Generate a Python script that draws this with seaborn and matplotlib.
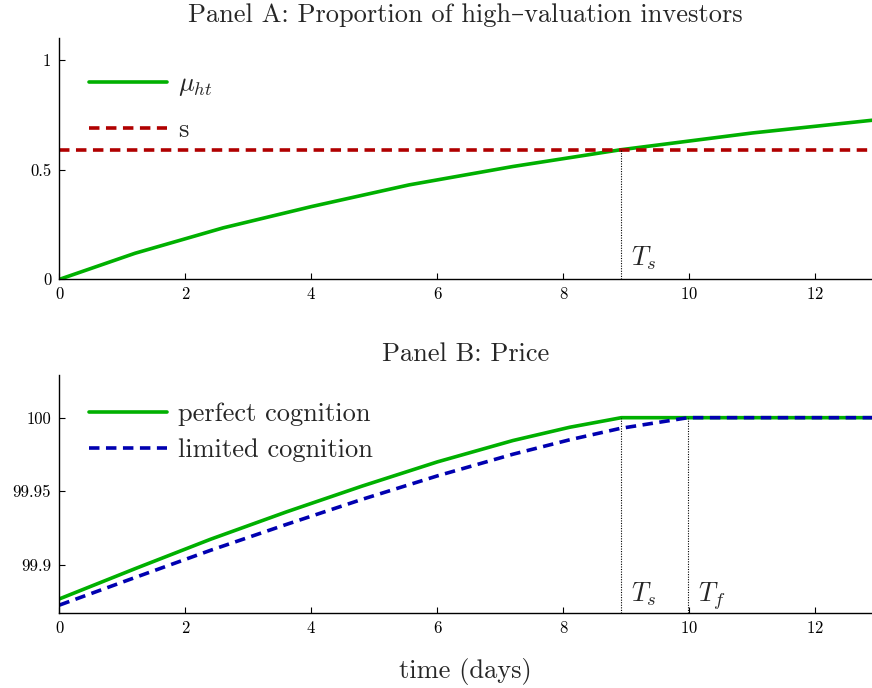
import numpy as np
import pandas as pd
import matplotlib
matplotlib.use("Agg")
import matplotlib.pyplot as plt
import seaborn as sns

# ---- data -------------------------------------------------------------
# Panel A: share of high-valuation investors over time
t_mu = [0.0, 1.2, 2.6, 4.0, 5.55, 7.2, 8.9, 11.0, 12.9]
mu_ht = [0.0, 0.119, 0.235, 0.332, 0.431, 0.515, 0.591, 0.668, 0.726]
s_level = 0.59

# Panel B: price paths
t_perfect = [0.0, 1.2, 2.4, 3.6, 4.8, 6.0, 7.2, 8.1, 8.92, 12.9]
p_perfect = [99.8770, 99.8975, 99.9175, 99.9360, 99.9535, 99.9700,
             99.9845, 99.9935, 100.0, 100.0]
t_limited = [0.0, 1.2, 2.4, 3.6, 4.8, 6.0, 7.2, 8.1, 8.9, 9.98, 12.9]
p_limited = [99.8728, 99.8915, 99.9100, 99.9275, 99.9445, 99.9605,
             99.9752, 99.9850, 99.9927, 100.0, 100.0]

T_s = 8.92
T_f = 9.98

x_ticks = [0, 2, 4, 6, 8, 10, 12]
yA_ticks = [0, 0.5, 1]
yA_labels = ["0", "0.5", "1"]
yB_ticks = [99.9, 99.95, 100]
yB_labels = ["99.9", "99.95", "100"]

# ---- style ------------------------------------------------------------
sns.set_theme(style="ticks")
plt.rcParams["font.family"] = ["cmr10", "DejaVu Serif"]
plt.rcParams["mathtext.fontset"] = "cm"
plt.rcParams["axes.formatter.use_mathtext"] = True
plt.rcParams["axes.edgecolor"] = "black"
plt.rcParams["axes.linewidth"] = 1.0

GREEN = "#00b000"
RED = "#b00000"
BLUE = "#0000b0"
LW = 2.6
DASH = (0, (2.9, 1.8))
BIG = 19
SMALL = 12

fig = plt.figure(figsize=(8.72, 6.88), dpi=100)
axA = fig.add_axes([0.0682, 0.594, 0.9318, 0.3503])
axB = fig.add_axes([0.0682, 0.1094, 0.9318, 0.3456])

# ---- Panel A ----------------------------------------------------------
dfA = pd.DataFrame({"t": t_mu, "mu": mu_ht})
sns.lineplot(data=dfA, x="t", y="mu", ax=axA, color=GREEN, lw=LW,
             label=r"$\mu_{ht}$")
axA.axhline(s_level, color=RED, lw=LW, linestyle=DASH, label="s")
axA.plot([T_s, T_s], [0, s_level], color="black", lw=0.8,
         linestyle=(0, (1, 1.3)))
axA.annotate(r"$T_s$", xy=(T_s, 0), xycoords=("data", "axes fraction"),
             xytext=(7, 10), textcoords="offset points", fontsize=BIG,
             va="baseline", ha="left")
axA.set_xlim(0, 12.9)
axA.set_ylim(0, 1.1)
axA.set_yticks(yA_ticks, yA_labels)
axA.set_title("Panel A: Proportion of high\u2013valuation investors",
              fontsize=BIG, pad=12)
axA.legend(loc="upper left", bbox_to_anchor=(0.036, 0.86), frameon=False,
           fontsize=BIG, handlelength=2.95, handletextpad=0.42,
           borderpad=0, borderaxespad=0, labelspacing=0.78)

# ---- Panel B ----------------------------------------------------------
dfP = pd.DataFrame({"t": t_perfect, "p": p_perfect})
dfL = pd.DataFrame({"t": t_limited, "p": p_limited})
sns.lineplot(data=dfP, x="t", y="p", ax=axB, color=GREEN, lw=LW,
             label="perfect cognition")
sns.lineplot(data=dfL, x="t", y="p", ax=axB, color=BLUE, lw=LW,
             linestyle=DASH, label="limited cognition")
for tv, lab in [(T_s, r"$T_s$"), (T_f, r"$T_f$")]:
    axB.plot([tv, tv], [99.8676, 100.0], color="black", lw=0.8,
             linestyle=(0, (1, 1.3)))
    axB.annotate(lab, xy=(tv, 0), xycoords=("data", "axes fraction"),
                 xytext=(7, 8), textcoords="offset points", fontsize=BIG,
                 va="baseline", ha="left")
axB.set_xlim(0, 12.9)
axB.set_ylim(99.8676, 100.029)
axB.set_yticks(yB_ticks, yB_labels)
axB.set_title("Panel B: Price", fontsize=BIG, pad=10)
axB.set_xlabel("time (days)", fontsize=BIG, labelpad=16)
axB.legend(loc="upper left", bbox_to_anchor=(0.036, 0.885), frameon=False,
           fontsize=BIG, handlelength=2.95, handletextpad=0.42,
           borderpad=0, borderaxespad=0, labelspacing=0.48)

for ax in (axA, axB):
    sns.despine(ax=ax)
    ax.set_xticks(x_ticks)
    ax.set_ylabel("")
    if ax is axA:
        ax.set_xlabel("")
    ax.tick_params(direction="in", length=4, width=0.8, labelsize=SMALL,
                   colors="black")
    ax.tick_params(axis="x", pad=5)
    ax.tick_params(axis="y", pad=6)

fig.savefig("out.png", dpi=100)
